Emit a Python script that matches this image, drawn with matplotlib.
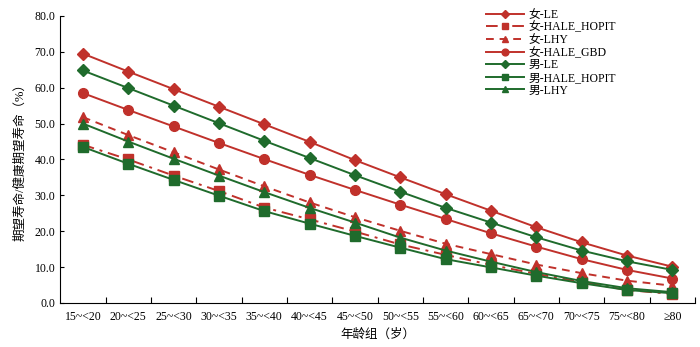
import matplotlib.pyplot as plt

plt.rcParams['font.family'] = ['Liberation Serif', 'Noto Sans CJK SC']
plt.rcParams['axes.unicode_minus'] = False

age_groups = ['15~<20', '20~<25', '25~<30', '30~<35', '35~<40', '40~<45', '45~<50',
              '50~<55', '55~<60', '60~<65', '65~<70', '70~<75', '75~<80', '≥80']

f_le = [69.5, 64.5, 59.6, 54.7, 49.8, 44.9, 39.8, 35.0, 30.3, 25.7, 21.1, 16.9, 13.2, 10.1]
f_hale_hopit = [44.1, 40.0, 35.5, 31.2, 26.6, 23.3, 19.9, 16.3, 13.4, 10.6, 8.1, 5.8, 3.6, 2.5]
f_lhy = [51.8, 46.8, 42.0, 37.2, 32.5, 28.0, 23.9, 20.1, 16.5, 13.6, 10.7, 8.3, 6.2, 4.8]
f_hale_gbd = [58.5, 53.8, 49.2, 44.6, 40.1, 35.7, 31.5, 27.4, 23.4, 19.4, 15.7, 12.2, 9.2, 6.8]
m_le = [64.8, 59.9, 55.0, 50.1, 45.2, 40.4, 35.6, 31.0, 26.5, 22.4, 18.3, 14.6, 11.6, 9.2]
m_hale_hopit = [43.5, 38.8, 34.3, 29.9, 25.6, 22.1, 18.7, 15.4, 12.2, 9.9, 7.6, 5.5, 3.6, 2.7]
m_lhy = [50.0, 45.0, 40.2, 35.5, 30.9, 26.5, 22.4, 18.2, 14.6, 11.5, 8.6, 6.1, 4.1, 3.0]

red = '#c0312b'
green = '#1f6b2c'

fig = plt.figure(figsize=(7, 3.47), dpi=100)
ax = fig.add_axes([0.086, 0.127, 0.907, 0.827])
x = range(len(age_groups))

series = [
  ('女-LE', f_le, red, '-', 'D', 6),
  ('女-HALE_HOPIT', f_hale_hopit, red, (0, (6, 3, 1.5, 3)), 's', 6.5),
  ('女-LHY', f_lhy, red, (0, (4, 3)), '^', 7),
  ('女-HALE_GBD', f_hale_gbd, red, '-', 'o', 7),
  ('男-LE', m_le, green, '-', 'D', 6),
  ('男-HALE_HOPIT', m_hale_hopit, green, '-', 's', 6.5),
  ('男-LHY', m_lhy, green, '-', '^', 7),
]
for label, vals, c, ls, mk, ms in series:
  ax.plot(x, vals, color=c, linestyle=ls, linewidth=1.4, marker=mk, markersize=ms,
          markerfacecolor=c, markeredgecolor=c, label=label)

ax.set_xlim(-0.5, len(age_groups) - 0.5)
ax.set_ylim(0, 80)
ax.set_yticks(range(0, 81, 10))
ax.set_yticklabels(['%.1f' % v for v in range(0, 81, 10)], fontsize=8.5)
ax.set_xticks(list(x))
ax.set_xticklabels(age_groups, fontsize=8.5)
ax.set_xticks([i + 0.5 for i in range(len(age_groups))], minor=True)
ax.tick_params(axis='x', which='major', length=0, pad=6)
ax.tick_params(axis='x', which='minor', direction='in', length=4, width=0.8)
ax.tick_params(axis='y', direction='in', length=3, width=0.8)
for s in ['top', 'right']:
  ax.spines[s].set_visible(False)
for s in ['left', 'bottom']:
  ax.spines[s].set_linewidth(0.8)

ax.set_xlabel('年龄组（岁）', fontsize=9, labelpad=4)
ax.set_ylabel('期望寿命/健康期望寿命（%）', fontsize=9, labelpad=6)

fig.legend(loc='upper left', bbox_to_anchor=(486 / 700, 1 - 9 / 347), frameon=False,
           fontsize=8.5, markerscale=0.7, handlelength=3.2, labelspacing=0.05,
           handletextpad=0.4, borderpad=0, borderaxespad=0)

fig.savefig('out.png', dpi=100)
